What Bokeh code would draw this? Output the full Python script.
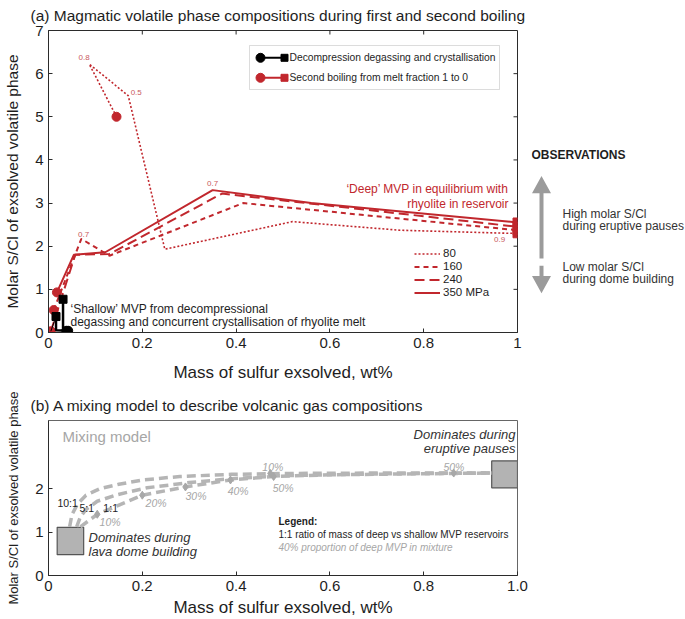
from bokeh.plotting import figure
from bokeh.layouts import column, row
from bokeh.models import (Range1d, FixedTicker, Label, Legend, LegendItem, BoxAnnotation)
from bokeh.embed import file_html
from bokeh.resources import INLINE

FONT = "Liberation Sans"
RED = "#c1272d"
LABEL_RED = "#c95a5e"
MIX_GREY = "#b5b5b5"
TXT_GREY = "#a6a6a6"
AX = "#2b2b2b"
TXT = "#1e1e1e"

# ---------------- panel (a) data ----------------
a_x_ticks = [0, 0.2, 0.4, 0.6, 0.8, 1]
a_x_labels = ["0", "0.2", "0.4", "0.6", "0.8", "1"]
a_y_ticks = [0, 1, 2, 3, 4, 5, 6, 7]

pressure_labels = ["80", "160", "240", "350 MPa"]
sb80_x = [0.145, 0.087, 0.17, 0.248, 0.52, 0.75, 0.98, 1.0]
sb80_y = [5.0, 6.22, 5.49, 1.93, 2.57, 2.37, 2.3, 2.3]
sb160_x = [0.011, 0.07, 0.13, 0.415, 1.0]
sb160_y = [0.52, 2.17, 1.78, 3.0, 2.37]
sb240_x = [0.005, 0.057, 0.13, 0.37, 1.0]
sb240_y = [0.03, 1.8, 1.82, 3.22, 2.45]
sb350_x = [0.018, 0.054, 0.121, 0.35, 0.56, 1.0]
sb350_y = [0.93, 1.8, 1.86, 3.3, 3.0, 2.55]

dg1_x = [0.042, 0.016, 0.016]
dg1_y = [0.04, 0.05, 0.37]
dg2_x = [0.038, 0.031, 0.031]
dg2_y = [0.04, 0.05, 0.77]
dg3_x = [0.005, 0.016]
dg3_y = [0.03, 0.37]

melt_frac_labels = ["0.8", "0.5", "0.7", "0.7", "0.9"]
melt_frac_x = [0.076, 0.187, 0.35, 0.075, 0.962]
melt_frac_y = [6.37, 5.56, 3.45, 2.27, 2.16]

# ---------------- panel (b) data ----------------
b_x_ticks = [0, 0.2, 0.4, 0.6, 0.8, 1.0]
b_x_labels = ["0", "0.2", "0.4", "0.6", "0.8", "1.0"]
b_y_ticks = [0, 1, 2]

mix10_x = [0.045, 0.05, 0.062, 0.08, 0.11, 0.15, 0.2, 0.28, 0.39, 0.5, 0.7, 0.945]
mix10_y = [1.12, 1.4, 1.65, 1.85, 2.0, 2.1, 2.2, 2.28, 2.33, 2.35, 2.36, 2.36]
mix5_x = [0.06, 0.068, 0.08, 0.104, 0.146, 0.21, 0.3, 0.39, 0.5, 0.7, 0.945]
mix5_y = [1.12, 1.35, 1.52, 1.71, 1.86, 2.02, 2.14, 2.23, 2.3, 2.34, 2.36]
mix1_x = [0.068, 0.104, 0.2, 0.292, 0.388, 0.48, 0.6, 0.86, 0.945]
mix1_y = [1.12, 1.41, 1.85, 2.04, 2.2, 2.28, 2.32, 2.35, 2.36]

mark_x = [0.104, 0.2, 0.292, 0.388, 0.48, 0.473, 0.864]
mark_y = [1.41, 1.85, 2.04, 2.2, 2.28, 2.35, 2.36]

pct_labels = ["10%", "20%", "30%", "40%", "50%", "10%", "50%"]
pct_x = [0.109, 0.207, 0.292, 0.382, 0.478, 0.456, 0.842]
pct_y = [1.23, 1.68, 1.82, 1.95, 2.02, 2.5, 2.5]

ratio_labels = ["10:1", "5:1", "1:1"]
ratio_x = [0.019, 0.066, 0.117]
ratio_y = [1.68, 1.55, 1.55]

box_left = [0.0185, 0.945]
box_right = [0.075, 1.0]
box_bottom = [0.48, 2.02]
box_top = [1.11, 2.64]


# page-pixel -> data helpers (for annotation placement only)
def ax_x(px):
    return (px - 48) / 469.0


def ax_y(py):
    return (332 - py) / (302 / 7.0)


def bx_y(py):
    return (577 - py) / 44.0


def style(p, xt, xl, yt, ylab_size, xlab_standoff):
    p.grid.visible = False
    p.outline_line_color = AX
    p.outline_line_width = 1
    p.xaxis.ticker = FixedTicker(ticks=xt)
    p.xaxis.major_label_overrides = {t: l for t, l in zip(xt, xl)}
    p.yaxis.ticker = FixedTicker(ticks=yt)
    for ax in (p.xaxis, p.yaxis):
        ax.axis_line_color = AX
        ax.major_tick_line_color = AX
        ax.major_tick_in = 4
        ax.major_tick_out = 0
        ax.minor_tick_line_color = None
        ax.major_label_text_font = FONT
        ax.major_label_text_font_size = "15px"
        ax.major_label_text_color = TXT
        ax.axis_label_text_font = FONT
        ax.axis_label_text_font_style = "normal"
        ax.axis_label_text_color = TXT
        ax.major_label_standoff = 5
    p.xaxis.axis_label_text_font_size = "17px"
    p.xaxis.axis_label_standoff = xlab_standoff
    p.yaxis.axis_label_text_font_size = ylab_size
    p.yaxis.axis_label_standoff = 11
    p.title.text_font = FONT
    p.title.text_font_size = "15.5px"
    p.title.text_font_style = "normal"
    p.title.text_color = TXT
    p.title.align = "left"
    p.title.offset = -18
    p.title.vertical_align = "top"


def lab(p, x, y, text, size, color=TXT, align="left", style_="normal", baseline="middle"):
    p.add_layout(Label(x=x, y=y, text=text, text_font=FONT, text_font_size=size,
                       text_color=color, text_align=align, text_baseline=baseline,
                       text_font_style=style_))


# ================= panel (a) =================
p1 = figure(width=531, height=384, x_range=Range1d(0, 1), y_range=Range1d(0, 7),
            title="(a) Magmatic volatile phase compositions during first and second boiling",
            x_axis_label="Mass of sulfur exsolved, wt%",
            y_axis_label="Molar S/Cl of exsolved volatile phase",
            output_backend="svg", toolbar_location=None,
            min_border_left=48, min_border_right=14, min_border_top=30, min_border_bottom=52)
style(p1, a_x_ticks, a_x_labels, a_y_ticks, "15.5px", 12)
p1.title.standoff = 9

# inward ticks on the top and right frame edges
top_t = a_x_ticks[1:-1]
p1.segment(x0=top_t, y0=[a_y_ticks[-1]] * len(top_t), x1=top_t,
           y1=[a_y_ticks[-1] - 4 * 7 / 302.0] * len(top_t), line_color=AX, line_width=1)
right_t = a_y_ticks[1:-1]
p1.segment(x0=[a_x_ticks[-1]] * len(right_t), y0=right_t,
           x1=[a_x_ticks[-1] - 4 / 469.0] * len(right_t), y1=right_t, line_color=AX, line_width=1)

# legend frame (under the swatches)
p1.add_layout(BoxAnnotation(left=ax_x(249), right=ax_x(499), top=ax_y(45), bottom=ax_y(89),
                            fill_color="white", fill_alpha=1, line_color="#8c8c8c",
                            line_width=1, level="underlay"))

r80 = p1.line(sb80_x, sb80_y, color=RED, line_width=1.6, line_dash="2 2")
r160 = p1.line(sb160_x, sb160_y, color=RED, line_width=2, line_dash="5 4")
r240 = p1.line(sb240_x, sb240_y, color=RED, line_width=2, line_dash="10 5")
r350 = p1.line(sb350_x, sb350_y, color=RED, line_width=2)

series = [(sb80_x, sb80_y), (sb160_x, sb160_y), (sb240_x, sb240_y), (sb350_x, sb350_y)]
p1.scatter([s[0][0] for s in series], [s[1][0] for s in series], marker="circle",
           size=9, color=RED)
p1.scatter([s[0][-1] for s in series], [s[1][-1] for s in series], marker="square",
           size=9, color=RED)

p1.line(dg3_x, dg3_y, color="black", line_width=1)
for dx, dy in ((dg1_x, dg1_y), (dg2_x, dg2_y)):
    p1.line(dx, dy, color="black", line_width=2.5)
dgs = [(dg1_x, dg1_y), (dg2_x, dg2_y)]
p1.scatter([d[0][0] for d in dgs], [d[1][0] for d in dgs], marker="circle", size=9, color="black")
p1.scatter([d[0][-1] for d in dgs], [d[1][-1] for d in dgs], marker="square", size=8, color="black")

for t, x, y in zip(melt_frac_labels, melt_frac_x, melt_frac_y):
    lab(p1, x, y, t, "8px", color=LABEL_RED, align="center")

# legend swatches (circle -> square)
leg_rows = [("Decompression degassing and crystallisation", "black", ax_y(57.3)),
            ("Second boiling from melt fraction 1 to 0", RED, ax_y(77.3))]
for text, col, ly in leg_rows:
    p1.line([ax_x(260), ax_x(283)], [ly, ly], color=col, line_width=2)
    p1.scatter([ax_x(260)], [ly], marker="circle", size=9, color=col)
    p1.scatter([ax_x(284)], [ly], marker="square", size=7, color=col)
    lab(p1, ax_x(289), ly, text, "10.3px")

leg = Legend(items=[LegendItem(label=l, renderers=[r]) for l, r in
                    zip(pressure_labels, [r80, r160, r240, r350])],
             location=(366, 34), orientation="vertical", glyph_width=26, glyph_height=11,
             label_height=11, label_standoff=3, spacing=1, padding=0, margin=0,
             border_line_alpha=0, background_fill_alpha=0, label_text_font=FONT,
             label_text_font_size="11.5px", label_text_color=TXT)
p1.add_layout(leg)

lab(p1, ax_x(508), ax_y(188), "\u2018Deep\u2019 MVP in equilibrium with", "12px", color=RED, align="right")
lab(p1, ax_x(508), ax_y(203), "rhyolite in reservoir", "12px", color=RED, align="right")
lab(p1, ax_x(70), ax_y(308), "\u2018Shallow\u2019 MVP from decompressional", "12px")
lab(p1, ax_x(70), ax_y(321), "degassing and concurrent crystallisation of rhyolite melt", "12px")

# ================= observations side panel (page-pixel coordinates) =================
pr = figure(width=154, height=384, x_range=Range1d(531, 685), y_range=Range1d(384, 0),
            x_axis_location=None, y_axis_location=None, output_backend="svg",
            toolbar_location=None, min_border_left=0, min_border_right=0,
            min_border_top=0, min_border_bottom=0, outline_line_color=None)
pr.grid.visible = False
up = [(539, 290), (539, 207), (531.5, 207), (541, 185), (550.5, 207), (543, 207), (543, 290)]
down = [(539, 299), (539, 312), (531.5, 312), (541, 334), (550.5, 312), (543, 312), (543, 299)]
pr.patches(xs=[[a for a, b in up], [a for a, b in down]],
           ys=[[b for a, b in up], [b for a, b in down]],
           fill_color="#9b9b9b", line_alpha=0)
lab(pr, 531, 158, "OBSERVATIONS", "12px", style_="bold")
lab(pr, 562, 233, "High molar S/Cl", "12px", color="#333333")
lab(pr, 562, 248, "during eruptive pauses", "12px", color="#333333")
lab(pr, 562, 301, "Low molar S/Cl", "12px", color="#333333")
lab(pr, 562, 316, "during dome building", "12px", color="#333333")

# ================= panel (b) =================
p2 = figure(width=531, height=235, x_range=Range1d(0, 1), y_range=Range1d(0, 3.57),
            title="(b) A mixing model to describe volcanic gas compositions",
            x_axis_label="Mass of sulfur exsolved, wt%",
            y_axis_label="Molar S/Cl of exsolved volatile phase",
            output_backend="svg", toolbar_location=None,
            min_border_left=48, min_border_right=14, min_border_top=36, min_border_bottom=42)
style(p2, b_x_ticks, b_x_labels, b_y_ticks, "13px", 4)
p2.title.standoff = 10
p2.outline_line_color = "#666666"

p2.quad(left=box_left, right=box_right, bottom=box_bottom, top=box_top,
        fill_color="#b3b3b3", line_color="#555555", line_width=1.2)
for mx, my in ((mix10_x, mix10_y), (mix5_x, mix5_y), (mix1_x, mix1_y)):
    p2.line(mx, my, color=MIX_GREY, line_width=3.5, line_dash="9 5")
p2.scatter(mark_x, mark_y, marker="diamond", size=8, color="#a8a8a8")

for t, x, y in zip(pct_labels, pct_x, pct_y):
    lab(p2, x, y, t, "10.5px", color=TXT_GREY, style_="italic")
for t, x, y in zip(ratio_labels, ratio_x, ratio_y):
    lab(p2, x, y, t, "10.5px", color=TXT)

lab(p2, ax_x(62), bx_y(436), "Mixing model", "15px", color=TXT_GREY)
lab(p2, ax_x(88), bx_y(538), "Dominates during", "13px", color="#333333", style_="italic")
lab(p2, ax_x(88), bx_y(553), "lava dome building", "13px", color="#333333", style_="italic")
lab(p2, ax_x(515), bx_y(434), "Dominates during", "13px", color="#333333", style_="italic", align="right")
lab(p2, ax_x(515), bx_y(448), "eruptive pauses", "13px", color="#333333", style_="italic", align="right")
lab(p2, ax_x(278), bx_y(522), "Legend:", "10px", style_="bold")
lab(p2, ax_x(278), bx_y(535), "1:1 ratio of mass of deep vs shallow MVP reservoirs", "10px")
lab(p2, ax_x(278), bx_y(549), "40% proportion of deep MVP in mixture", "10px", color=TXT_GREY, style_="italic")

layout = column(row(p1, pr, spacing=0), p2, spacing=0)
open("out.html", "w").write(file_html(layout, INLINE))
